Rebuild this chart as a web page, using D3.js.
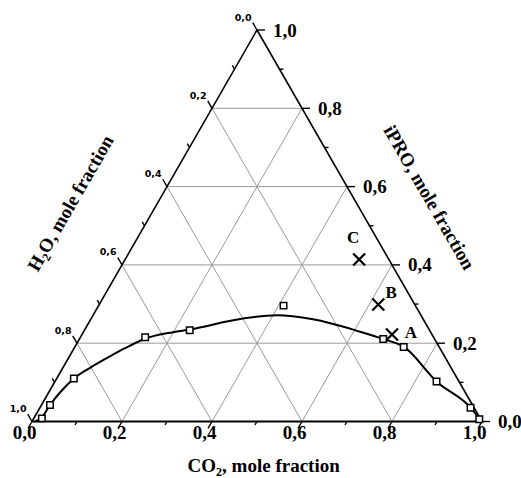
<!DOCTYPE html>
<html><head><meta charset="utf-8">
<script src="https://cdn.jsdelivr.net/npm/d3@7"></script>
<style>body{margin:0;background:#fff}svg{display:block}</style>
</head><body>
<svg id="c" width="521" height="478"></svg>
<script>
// ---- data ----
const tickValues = [0, 0.2, 0.4, 0.6, 0.8, 1.0];
const tickLabels = ["0,0", "0,2", "0,4", "0,6", "0,8", "1,0"];
const minorTicks = [0.1, 0.3, 0.5, 0.7, 0.9];
const gridValues = [0.2, 0.4, 0.6, 0.8];
// experimental points (CO2, iPRO mole fractions)
const expCO2  = [0.018, 0.019, 0.038, 0.144, 0.234, 0.411, 0.675, 0.731, 0.848, 0.957, 0.991];
const expIPRO = [0.008, 0.042, 0.110, 0.215, 0.233, 0.296, 0.211, 0.190, 0.102, 0.035, 0.006];
// fitted binodal curve
const curveCO2  = [0.0067, 0.0165, 0.0189, 0.0252, 0.0388, 0.0603, 0.0900, 0.1131, 0.1454, 0.1892, 0.2336, 0.3373, 0.4088, 0.4939, 0.6142, 0.6753, 0.7315, 0.8485, 0.9573, 0.9972];
const curveIPRO = [0.0000, 0.0102, 0.0421, 0.0741, 0.1103, 0.1372, 0.1665, 0.1872, 0.2115, 0.2261, 0.2350, 0.2631, 0.2713, 0.2610, 0.2294, 0.2107, 0.1904, 0.1017, 0.0352, 0.0013];
// feed points
const feedNames = ["A", "B", "C"];
const feedCO2   = [0.689, 0.620, 0.520];
const feedIPRO  = [0.222, 0.299, 0.414];

// ---- scales ----
const svg = d3.select("#c");
const xs = d3.scaleLinear().domain([0, 1]).range([32, 482]);
const ys = d3.scaleLinear().domain([0, 1]).range([421.5, 30]);
const P = (c, p) => [xs(c + p / 2), ys(p)];
const serif = "'Liberation Serif', 'Times New Roman', serif";
const sans = "'DejaVu Sans', Verdana, sans-serif";

// ---- grid ----
const g = svg.append("g").attr("stroke", "#9a9a9a").attr("stroke-width", 1).attr("fill", "none");
gridValues.forEach(v => {
  g.append("line").datum([P(0, v), P(1 - v, v)]);          // iPRO const
  g.append("line").datum([P(v, 0), P(v, 1 - v)]);          // CO2 const
  g.append("line").datum([P(1 - v, 0), P(0, 1 - v)]);      // H2O const
});
g.selectAll("line").attr("x1", d => d[0][0]).attr("y1", d => d[0][1]).attr("x2", d => d[1][0]).attr("y2", d => d[1][1]);

// ---- edges ----
const e = svg.append("g").attr("stroke", "#000").attr("fill", "none");
const edge = (a, b, w) => e.append("line").attr("x1", a[0]).attr("y1", a[1]).attr("x2", b[0]).attr("y2", b[1]).attr("stroke-width", w);
edge(P(0, 0), P(1, 0), 2.2);
edge(P(0, 0), P(0, 1), 1.6);
edge(P(1, 0), P(0, 1), 1.6);

// ---- ticks ----
const t = svg.append("g").attr("stroke", "#000").attr("stroke-width", 1.4);
const tick = (pt, dx, dy, len) => t.append("line").attr("x1", pt[0]).attr("y1", pt[1]).attr("x2", pt[0] + dx * len).attr("y2", pt[1] + dy * len);
const s3 = Math.sqrt(3) / 2;
tickValues.forEach(v => {
  tick(P(v, 0), -0.5, s3, 8);          // bottom CO2
  tick(P(1 - v, v), 1, 0, 8);          // right iPRO
  tick(P(0, 1 - v), -0.5, -s3, 8.5);   // left H2O
});
minorTicks.forEach(v => {
  tick(P(v, 0), -0.5, s3, 4);
  tick(P(1 - v, v), 1, 0, 4);
  tick(P(0, 1 - v), -0.5, -s3, 4.5);
});

// ---- tick labels ----
tickValues.forEach((v, i) => {
  const b = P(v, 0);
  svg.append("text").attr("x", b[0] - 7.5).attr("y", 439).attr("text-anchor", "middle")
    .attr("font-family", serif).attr("font-weight", "bold").attr("font-size", 19).text(tickLabels[i]);
  const r = P(1 - v, v);
  svg.append("text").attr("x", r[0] + 16).attr("y", r[1] + 6.5).attr("text-anchor", "start")
    .attr("font-family", serif).attr("font-weight", "bold").attr("font-size", 19).text(tickLabels[i]);
  const l = P(0, 1 - v);
  svg.append("text").attr("x", l[0] - 5.5).attr("y", l[1] - 9.5).attr("text-anchor", "end")
    .attr("font-family", sans).attr("font-weight", "bold").attr("font-size", 9.5).text(tickLabels[i]);
});

// ---- axis titles ----
function title(x, y, rot, parts) {
  const tx = svg.append("text").attr("transform", `translate(${x},${y}) rotate(${rot})`)
    .attr("text-anchor", "middle").attr("font-family", serif).attr("font-weight", "bold").attr("font-size", 19);
  parts.forEach(p => {
    const s = tx.append("tspan").text(p.t);
    if (p.sub) s.attr("font-size", 12).attr("dy", 4);
    if (p.up) s.attr("dy", -4);
  });
}
title(263.7, 471.5, 0, [{t: "CO"}, {t: "2", sub: true}, {t: ", mole fraction", up: true}]);
title(76, 206.3, -60, [{t: "H"}, {t: "2", sub: true}, {t: "O, mole fraction", up: true}]);
title(423.8, 200.5, 60, [{t: "iPRO, mole fraction"}]);

// ---- curve ----
const curvePts = curveCO2.map((c, i) => P(c, curveIPRO[i]));
svg.append("path").attr("d", d3.line().curve(d3.curveMonotoneX)(curvePts))
  .attr("fill", "none").attr("stroke", "#000").attr("stroke-width", 2);

// ---- experimental squares ----
svg.append("g").selectAll("path").data(expCO2.map((c, i) => P(c, expIPRO[i]))).join("path")
  .attr("transform", d => `translate(${d[0]},${d[1]})`)
  .attr("d", d3.symbol(d3.symbolSquare).size(42))
  .attr("fill", "#fff").attr("stroke", "#000").attr("stroke-width", 1.5);

// ---- feed crosses ----
const feeds = feedNames.map((n, i) => ({n, p: P(feedCO2[i], feedIPRO[i])}));
svg.append("g").selectAll("path").data(feeds).join("path")
  .attr("transform", d => `translate(${d.p[0]},${d.p[1]})`)
  .attr("d", d3.symbol(d3.symbolTimes).size(96))
  .attr("fill", "none").attr("stroke", "#000").attr("stroke-width", 2.2);
const labOff = {A: [19, 3], B: [13, -6.5], C: [-6, -16.5]};
svg.append("g").selectAll("text").data(feeds).join("text")
  .attr("x", d => d.p[0] + labOff[d.n][0]).attr("y", d => d.p[1] + labOff[d.n][1])
  .attr("text-anchor", "middle").attr("font-family", serif).attr("font-weight", "bold").attr("font-size", 17)
  .text(d => d.n);
</script>
</body></html>
